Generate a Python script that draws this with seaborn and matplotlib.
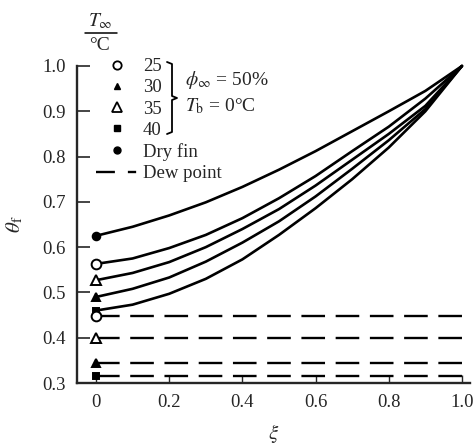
import numpy as np
import pandas as pd
import matplotlib
matplotlib.use("Agg")
import matplotlib.pyplot as plt
from matplotlib.lines import Line2D
import seaborn as sns

# 数据
xi = [0, 0.1, 0.2, 0.3, 0.4, 0.5, 0.6, 0.7, 0.8, 0.9, 1.0]
theta_dry = [0.625, 0.645, 0.670, 0.699, 0.733, 0.771, 0.812, 0.856, 0.900, 0.945, 1.0]
theta_25 = [0.563, 0.575, 0.598, 0.627, 0.664, 0.708, 0.757, 0.812, 0.866, 0.928, 1.0]
theta_35 = [0.527, 0.543, 0.567, 0.600, 0.640, 0.684, 0.736, 0.793, 0.850, 0.912, 1.0]
theta_30 = [0.490, 0.508, 0.533, 0.568, 0.610, 0.657, 0.712, 0.773, 0.836, 0.905, 1.0]
theta_40 = [0.460, 0.473, 0.497, 0.530, 0.573, 0.627, 0.686, 0.750, 0.820, 0.900, 1.0]

# 露点
dew_labels = ["25", "35", "30", "40"]
dew_theta = [0.447, 0.399, 0.345, 0.3145]

x_ticks = [0, 0.2, 0.4, 0.6, 0.8, 1.0]
x_tick_labels = ["0", "0.2", "0.4", "0.6", "0.8", "1.0"]
y_ticks = [0.3, 0.4, 0.5, 0.6, 0.7, 0.8, 0.9, 1.0]

curves = {"dry": theta_dry, "25": theta_25, "35": theta_35, "30": theta_30, "40": theta_40}
df = pd.concat(
    [pd.DataFrame({"xi": xi, "theta": v, "case": k}) for k, v in curves.items()],
    ignore_index=True,
)

# 标记样式
marker_style = {
    "dry": dict(marker="o", mfc="black", ms=5.5),
    "25": dict(marker="o", mfc="white", ms=7),
    "35": dict(marker="^", mfc="white", ms=7.5),
    "30": dict(marker="^", mfc="black", ms=5.5),
    "40": dict(marker="s", mfc="black", ms=5),
}

sns.set_style("ticks")
plt.rcParams["font.family"] = ["Liberation Serif", "DejaVu Serif"]
plt.rcParams["mathtext.fontset"] = "stix"

fig = plt.figure(figsize=(4.76, 4.46), dpi=100)
W, H = 476, 446
ax = fig.add_axes([77 / W, 1 - 383 / H, (470 - 77) / W, (383 - 66) / H])

sns.lineplot(data=df, x="xi", y="theta", units="case", estimator=None,
             color="black", lw=1.9, ax=ax, legend=False, clip_on=False)

for k, v in curves.items():
    ax.plot(xi[0], v[0], ls="none", mec="black", mew=1.4, clip_on=False,
            zorder=5, **marker_style[k])

xmax = 1.022
ax.hlines(dew_theta, 0, xmax, colors="black", lw=1.7,
          linestyles=[(0, (10, 4.5))], clip_on=False)
for lab, v in zip(dew_labels, dew_theta):
    ax.plot(0, v, ls="none", mec="black", mew=1.4, clip_on=False,
            zorder=5, **marker_style[lab])

ax.set_xlim(-0.052, xmax)
ax.set_ylim(0.3, 1.0)
ax.set_xticks(x_ticks)
ax.set_xticklabels(x_tick_labels)
ax.set_yticks(y_ticks)
ax.set_yticklabels([f"{t:.1f}" for t in y_ticks])
ax.tick_params(axis="y", direction="in", length=9, width=1.2, pad=8, labelsize=13.5)
ax.tick_params(axis="x", direction="in", length=6, width=1.0, pad=8, labelsize=13.5)
for s in ["top", "right"]:
    ax.spines[s].set_visible(False)
for s in ["left", "bottom"]:
    ax.spines[s].set_linewidth(1.7)

ax.set_xlabel(r"$\xi$", fontsize=15, labelpad=8)
ax.set_ylabel(r"$\theta_\mathrm{f}$", fontsize=15, labelpad=12)


def px(x, y):
    return x / W, 1 - y / H


# 图例
handles = [
    Line2D([], [], ls="none", mec="black", mew=1.3, marker="o", mfc="white", ms=6),
    Line2D([], [], ls="none", mec="black", mew=1.0, marker="^", mfc="black", ms=5),
    Line2D([], [], ls="none", mec="black", mew=1.3, marker="^", mfc="white", ms=7),
    Line2D([], [], ls="none", mec="black", mew=1.0, marker="s", mfc="black", ms=4.5),
    Line2D([], [], ls="none", mec="black", mew=1.0, marker="o", mfc="black", ms=5),
    Line2D([], [], color="black", lw=1.7, ls=(0, (8, 5.5, 3.5, 1))),
]
labels = ["25", "30", "35", "40", "Dry fin", "Dew point"]
fig.legend(handles, labels, loc="upper left", bbox_to_anchor=px(96, 58),
           frameon=False, fontsize=13.5, handlelength=2.2, handletextpad=0.3,
           labelspacing=0.22, borderpad=0, borderaxespad=0)

# 标题分数
fig.text(*px(100, 21), r"$T_\infty$", fontsize=14, ha="center", va="center")
fig.add_artist(Line2D([85 / W, 117 / W], [1 - 33 / H, 1 - 33 / H], color="black", lw=1.1))
fig.text(*px(100, 46), "°C", fontsize=14, ha="center", va="center")

# 大括号
bx = [167, 172, 172, 177, 172, 172, 167]
by = [62, 64, 96, 98, 100, 132, 134]
fig.add_artist(Line2D([b / W for b in bx], [1 - b / H for b in by], color="black", lw=1.3))

fig.text(*px(185, 80), r"$\phi_\infty$ = 50%", fontsize=14, ha="left", va="center")
fig.text(*px(185, 106), r"$T_\mathrm{b}$ = 0°C", fontsize=14, ha="left", va="center")

fig.savefig("out.png", dpi=100)
